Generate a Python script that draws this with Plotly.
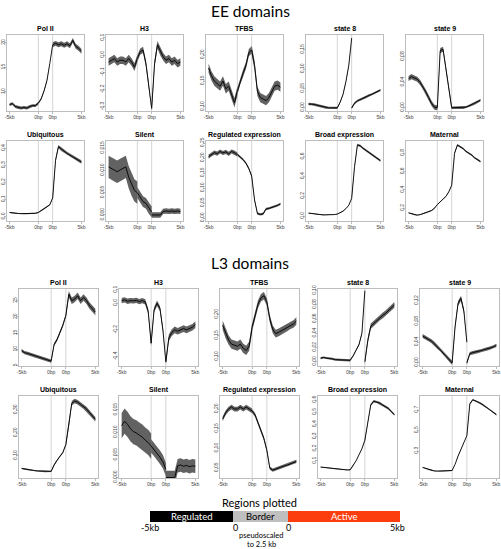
import plotly.graph_objects as go

# ---------------- data ----------------
X_REG = [0.0, 0.5, 1.0, 1.5, 2.0, 2.5, 3.0, 3.5, 4.0, 4.5, 5.0]
X_BOR = [5.0, 5.5, 6.0, 6.5, 7.0, 7.5]
X_ACT = [7.5, 8.0, 8.5, 9.0, 9.5, 10.0, 10.5, 11.0, 11.5, 12.0, 12.5]
X_TICKS = [0, 5, 7.5, 12.5]
X_TICK_LABELS = ["-5kb", "0bp", "0bp", "5kb"]

TITLES = ["Pol II", "H3", "TFBS", "state 8", "state 9",
          "Ubiquitous", "Silent", "Regulated expression", "Broad expression", "Maternal"]

# each series: 11 regulated values, 6 border values, 11 active values
EE_POL2 = [7.4, 7.6, 7.0, 6.8, 6.7, 6.8, 6.7, 7.0, 7.2, 7.2, 7.7,
           7.7, 8.6, 10.2, 12.3, 15.8, 19.6,
           19.6, 19.9, 19.6, 19.8, 19.5, 19.8, 19.4, 20.5, 19.3, 18.9, 18.3]
EE_H3 = [-0.04, -0.03, -0.02, -0.04, -0.03, -0.03, -0.04, -0.02, -0.04, -0.07, -0.02,
         -0.02, 0.02, 0.03, -0.05, -0.18, -0.31,
         -0.31, -0.05, 0.06, 0.02, -0.01, -0.03, -0.02, -0.04, -0.03, -0.05, -0.04]
EE_TFBS = [0.175, 0.16, 0.15, 0.145, 0.14, 0.15, 0.135, 0.14, 0.125, 0.108, 0.13,
           0.13, 0.15, 0.165, 0.18, 0.205, 0.21,
           0.21, 0.18, 0.13, 0.118, 0.115, 0.112, 0.118, 0.128, 0.14, 0.142, 0.138]
EE_STATE8 = [0.010, 0.010, 0.009, 0.007, 0.005, 0.003, 0.001, 0.0, 0.0, 0.0, 0.0,
             0.0, 0.015, 0.035, 0.068, 0.11, 0.18,
             0.0, 0.012, 0.018, 0.022, 0.025, 0.028, 0.032, 0.035, 0.038, 0.043, 0.046]
EE_STATE9 = [0.046, 0.049, 0.047, 0.045, 0.040, 0.033, 0.025, 0.016, 0.007, 0.001, 0.0,
             0.0, 0.09, 0.092, 0.062, 0.03, 0.0,
             0.0, 0.0, 0.0, 0.0, 0.0, 0.001, 0.003, 0.005, 0.007, 0.009, 0.012]
EE_UBIQ = [0.025, 0.022, 0.020, 0.019, 0.018, 0.018, 0.018, 0.017, 0.018, 0.020, 0.025,
           0.025, 0.035, 0.045, 0.055, 0.07, 0.11,
           0.11, 0.33, 0.41, 0.395, 0.385, 0.37, 0.36, 0.35, 0.34, 0.33, 0.32]
EE_SILENT = [0.0108, 0.0104, 0.0100, 0.0097, 0.0101, 0.0104, 0.0108, 0.0085, 0.0068, 0.0055, 0.0050,
             0.0050, 0.0040, 0.0030, 0.0026, 0.0015, 0.0007,
             0.0, 0.0, 0.0, 0.0, 0.0008, 0.0009, 0.0008, 0.0009, 0.0008, 0.0009, 0.0008]
EE_REGEXP = [0.205, 0.212, 0.218, 0.215, 0.222, 0.217, 0.221, 0.214, 0.222, 0.218, 0.212,
             0.212, 0.205, 0.195, 0.183, 0.165, 0.14,
             0.14, 0.06, 0.015, 0.012, 0.014, 0.03, 0.032, 0.035, 0.038, 0.042, 0.047]
EE_BROAD = [0.03, 0.025, 0.02, 0.016, 0.013, 0.012, 0.012, 0.012, 0.013, 0.015, 0.02,
            0.02, 0.035, 0.05, 0.075, 0.11, 0.18,
            0.18, 0.5, 0.72, 0.71, 0.685, 0.665, 0.64, 0.62, 0.6, 0.58, 0.56]
EE_MATERNAL = [0.15, 0.14, 0.13, 0.125, 0.13, 0.14, 0.15, 0.16, 0.175, 0.2, 0.24,
               0.24, 0.275, 0.3, 0.33, 0.38, 0.45,
               0.45, 0.8, 0.89, 0.87, 0.85, 0.82, 0.8, 0.78, 0.75, 0.73, 0.71]

L3_POL2 = [9.6, 9.0, 8.8, 8.5, 8.1, 7.9, 7.6, 7.3, 7.0, 6.7, 6.4,
           6.4, 11.5, 13.0, 15.0, 17.5, 20.5,
           20.5, 27.0, 25.0, 25.5, 26.5, 25.0, 26.0, 25.0, 23.5, 22.5, 21.5]
L3_H3 = [0.02, 0.025, 0.015, 0.02, 0.018, 0.022, 0.012, 0.02, 0.01, -0.06, -0.3,
         -0.3, -0.05, 0.0, -0.04, -0.2, -0.44,
         -0.44, -0.26, -0.22, -0.2, -0.21, -0.2, -0.19, -0.2, -0.19, -0.18, -0.16]
L3_TFBS = [0.175, 0.155, 0.14, 0.13, 0.128, 0.125, 0.13, 0.12, 0.115, 0.125, 0.17,
           0.17, 0.20, 0.225, 0.24, 0.245, 0.23,
           0.23, 0.19, 0.165, 0.155, 0.158, 0.162, 0.165, 0.17, 0.175, 0.178, 0.185]
L3_STATE8 = [0.005, 0.006, 0.005, 0.005, 0.004, 0.003, 0.003, 0.002, 0.002, 0.002, 0.002,
             0.002, 0.008, 0.016, 0.024, 0.04, 0.10,
             0.0, 0.03, 0.05, 0.054, 0.058, 0.062, 0.065, 0.068, 0.072, 0.076, 0.08]
L3_STATE9 = [0.052, 0.049, 0.046, 0.042, 0.037, 0.031, 0.026, 0.02, 0.014, 0.007, 0.0,
             0.0, 0.07, 0.115, 0.125, 0.1, 0.04,
             0.0, 0.018, 0.02, 0.021, 0.022, 0.024, 0.026, 0.027, 0.029, 0.031, 0.034]
L3_UBIQ = [0.045, 0.042, 0.04, 0.038, 0.036, 0.034, 0.033, 0.032, 0.031, 0.03, 0.032,
           0.032, 0.06, 0.08, 0.1, 0.115, 0.15,
           0.15, 0.23, 0.33, 0.34, 0.335, 0.325, 0.315, 0.305, 0.29, 0.275, 0.26]
L3_SILENT = [0.0115, 0.0125, 0.0118, 0.0108, 0.0102, 0.0099, 0.0094, 0.0090, 0.0083, 0.0078, 0.0070,
             0.0070, 0.0062, 0.0055, 0.0045, 0.0035, 0.0018,
             0.0, 0.0, 0.0, 0.0, 0.0026, 0.0028, 0.0025, 0.0027, 0.0024, 0.0026, 0.0025]
L3_REGEXP = [0.175, 0.19, 0.2, 0.205, 0.2, 0.2, 0.205, 0.2, 0.205, 0.2, 0.195,
             0.195, 0.185, 0.165, 0.145, 0.125, 0.095,
             0.095, 0.05, 0.045, 0.048, 0.05, 0.053, 0.056, 0.058, 0.061, 0.064, 0.067]
L3_BROAD = [0.05, 0.047, 0.043, 0.04, 0.037, 0.034, 0.031, 0.029, 0.027, 0.026, 0.027,
            0.027, 0.06, 0.1, 0.15, 0.2, 0.27,
            0.27, 0.42, 0.56, 0.59, 0.585, 0.575, 0.56, 0.545, 0.53, 0.505, 0.48]
L3_MATERNAL = [0.14, 0.13, 0.12, 0.11, 0.105, 0.104, 0.104, 0.104, 0.105, 0.106, 0.11,
               0.11, 0.17, 0.25, 0.32, 0.38, 0.45,
               0.45, 0.76, 0.8, 0.79, 0.775, 0.76, 0.74, 0.72, 0.7, 0.68, 0.655]

# confidence band half-widths (regulated, border, active)
EE_SE = [[0.3, 0.2, 0.5], [0.022, 0.018, 0.022], [0.009, 0.007, 0.009], [0.003, 0.002, 0.003],
         [0.004, 0.004, 0.002], [0.003, 0.003, 0.01], [0.0025, 0.0012, 0.0006], [0.007, 0.004, 0.004],
         [0.003, 0.003, 0.012], [0.005, 0.004, 0.01]]
L3_SE = [[0.5, 0.5, 1.0], [0.02, 0.02, 0.025], [0.011, 0.009, 0.009], [0.0015, 0.0015, 0.004],
         [0.004, 0.005, 0.003], [0.003, 0.004, 0.01], [0.0028, 0.0015, 0.0015], [0.006, 0.005, 0.004],
         [0.003, 0.003, 0.01], [0.004, 0.004, 0.008]]

EE_SERIES = [EE_POL2, EE_H3, EE_TFBS, EE_STATE8, EE_STATE9,
             EE_UBIQ, EE_SILENT, EE_REGEXP, EE_BROAD, EE_MATERNAL]
L3_SERIES = [L3_POL2, L3_H3, L3_TFBS, L3_STATE8, L3_STATE9,
             L3_UBIQ, L3_SILENT, L3_REGEXP, L3_BROAD, L3_MATERNAL]

EE_YTICKS = [[10, 15, 20], [-0.3, -0.2, -0.1, 0.0, 0.1], [0.10, 0.15, 0.20], [0.0, 0.05, 0.10, 0.15],
             [0.0, 0.04, 0.08], [0.0, 0.1, 0.2, 0.3, 0.4], [0.0, 0.005, 0.010, 0.015],
             [0.0, 0.05, 0.10, 0.15, 0.20, 0.25], [0.0, 0.2, 0.4, 0.6], [0.2, 0.4, 0.6, 0.8]]
EE_YLABELS = [["10", "15", "20"], ["-0.3", "-0.2", "-0.1", "0.0", "0.1"], ["0.10", "0.15", "0.20"],
              ["0.00", "0.05", "0.10", "0.15"], ["0.00", "0.04", "0.08"], ["0.0", "0.1", "0.2", "0.3", "0.4"],
              ["0.000", "0.005", "0.010", "0.015"], ["0.00", "0.05", "0.10", "0.15", "0.20", "0.25"],
              ["0.0", "0.2", "0.4", "0.6"], ["0.2", "0.4", "0.6", "0.8"]]
L3_YTICKS = [[5, 10, 15, 20, 25], [-0.4, -0.2, 0.0, 0.1], [0.10, 0.15, 0.20],
             [0.0, 0.02, 0.04, 0.06, 0.08, 0.10], [0.0, 0.04, 0.08, 0.12], [0.10, 0.20, 0.30],
             [0.0, 0.005, 0.010, 0.015], [0.05, 0.10, 0.15, 0.20], [0.1, 0.2, 0.3, 0.4, 0.5, 0.6],
             [0.3, 0.5, 0.7]]
L3_YLABELS = [["5", "10", "15", "20", "25"], ["-0.4", "-0.2", "0.0", "0.1"], ["0.10", "0.15", "0.20"],
              ["0.00", "0.02", "0.04", "0.06", "0.08", "0.10"], ["0.00", "0.04", "0.08", "0.12"],
              ["0.10", "0.20", "0.30"], ["0.000", "0.005", "0.010", "0.015"],
              ["0.05", "0.10", "0.15", "0.20"], ["0.1", "0.2", "0.3", "0.4", "0.5", "0.6"],
              ["0.3", "0.5", "0.7"]]

# ---------------- layout (pixels) ----------------
W, H = 501, 549
EE_RANGES = [[6.1, 21.6], [-0.325, 0.117], [0.092, 0.239], [-0.008, 0.188], [-0.005, 0.1145],
             [-0.025, 0.443], [-0.00135, 0.0166], [-0.01, 0.257], [-0.05, 0.759], [0.061, 0.934]]
L3_RANGES = [[4.9, 28.6], [-0.471, 0.107], [0.078, 0.261], [-0.006, 0.1024], [-0.006, 0.143],
             [0.003, 0.362], [-0.0001, 0.0181], [0.025, 0.233], [-0.04, 0.633], [0.037, 0.837]]
EE_LEFTS = [7, 106, 206, 306, 406]
L3_LEFTS = [19, 119, 220, 318, 420]
EE_ROWS = [(35, 111), (141, 221)]
L3_ROWS = [(289, 366), (396, 478)]

fig = go.Figure()
layout = dict(width=W, height=H, margin=dict(l=0, r=0, t=0, b=0, autoexpand=False),
              paper_bgcolor="white", plot_bgcolor="white", showlegend=False)
shapes = []
annotations = []

BAND = "rgba(70,70,70,0.85)"
GRID = "#c9c9c9"
AXC = "#bdbdbd"


def px_x(v):
    return v / W


def px_y(v):
    return 1 - v / H


def label(text, x, y, size, family, color="black"):
    annotations.append(dict(text=text, x=px_x(x), y=px_y(y), xref="paper", yref="paper",
                            showarrow=False, xanchor="center", yanchor="middle",
                            font=dict(size=size, family=family, color=color)))


panels = []
for k in range(10):
    r, c = divmod(k, 5)
    panels.append((EE_LEFTS[c], 77, EE_ROWS[r], TITLES[k], EE_SERIES[k], EE_SE[k],
                   EE_RANGES[k], EE_YTICKS[k], EE_YLABELS[k]))
for k in range(10):
    r, c = divmod(k, 5)
    panels.append((L3_LEFTS[c], 79, L3_ROWS[r], TITLES[k], L3_SERIES[k], L3_SE[k],
                   L3_RANGES[k], L3_YTICKS[k], L3_YLABELS[k]))

for i, (left, w, (top, bot), title, vals, se, yr, yt, yl) in enumerate(panels):
    n = i + 1
    xa = "x" if n == 1 else f"x{n}"
    ya = "y" if n == 1 else f"y{n}"
    segs = [(X_REG, vals[0:11], se[0]), (X_BOR, vals[11:17], se[1]), (X_ACT, vals[17:28], se[2])]
    for xs, ys, s in segs:
        up = [v + s for v in ys]
        lo = [v - s for v in ys]
        fig.add_trace(go.Scatter(x=list(xs) + list(xs)[::-1], y=up + lo[::-1], fill="toself",
                                 fillcolor=BAND, line=dict(width=0), mode="lines",
                                 hoverinfo="skip", xaxis=xa, yaxis=ya))
        fig.add_trace(go.Scatter(x=xs, y=ys, mode="lines", line=dict(color="black", width=0.9),
                                 xaxis=xa, yaxis=ya))
    axn = "" if n == 1 else str(n)
    common = dict(showline=True, mirror=True, linecolor=AXC, linewidth=0.8, ticks="outside",
                  ticklen=2, tickwidth=0.6, tickcolor=AXC, showgrid=False, zeroline=False,
                  automargin=False,
                  tickfont=dict(size=5, color="#444", family="Liberation Sans"))
    layout["xaxis" + axn] = dict(domain=[px_x(left), px_x(left + w)], anchor=ya,
                                 range=[-0.45, 12.95], tickmode="array", tickvals=X_TICKS,
                                 ticktext=X_TICK_LABELS, ticklabelstandoff=-1, **common)
    layout["yaxis" + axn] = dict(domain=[px_y(bot), px_y(top)], anchor=xa, range=yr,
                                 tickmode="array", tickvals=yt, ticktext=yl, tickangle=-90,
                                 ticklabelstandoff=-3, **common)
    for xv in (5, 7.5):
        shapes.append(dict(type="line", xref=xa, yref=f"{ya} domain", x0=xv, x1=xv, y0=0, y1=1,
                           line=dict(color=GRID, width=0.8), layer="below"))
    label(f"<b>{title}</b>", left + w / 2, top - 6.5, 7, "Liberation Sans")

HEAD = "Lato"
label("EE domains", 250, 11, 15.5, HEAD)
label("L3 domains", 250, 263, 15.5, HEAD)

# bottom legend of regions
label("Regions plotted", 259, 502, 11, HEAD)
bars = [(150, 233, "black", "Regulated", "white"),
        (233, 288, "#bfbfbf", "Border", "black"),
        (288, 400, "#fc3d0e", "Active", "white")]
for x0, x1, col, lab, tc in bars:
    shapes.append(dict(type="rect", xref="paper", yref="paper", x0=px_x(x0), x1=px_x(x1),
                       y0=px_y(522), y1=px_y(511), fillcolor=col, line=dict(width=0)))
    label(lab, (x0 + x1) / 2, 516.5, 9.5, HEAD, tc)
for xv, lab in [(150, "-5kb"), (235, "0"), (288, "0"), (397, "5kb")]:
    label(lab, xv, 527.5, 9, HEAD)
label("pseudoscaled", 261, 535.5, 7.5, HEAD)
label("to 2.5 kb", 261, 544.5, 7.5, HEAD)

layout["shapes"] = shapes
layout["annotations"] = annotations
fig.update_layout(**layout)
fig.write_html("out.html", config={"displayModeBar": False},
               post_script="document.body.style.margin='0';document.body.style.overflow='hidden';")
